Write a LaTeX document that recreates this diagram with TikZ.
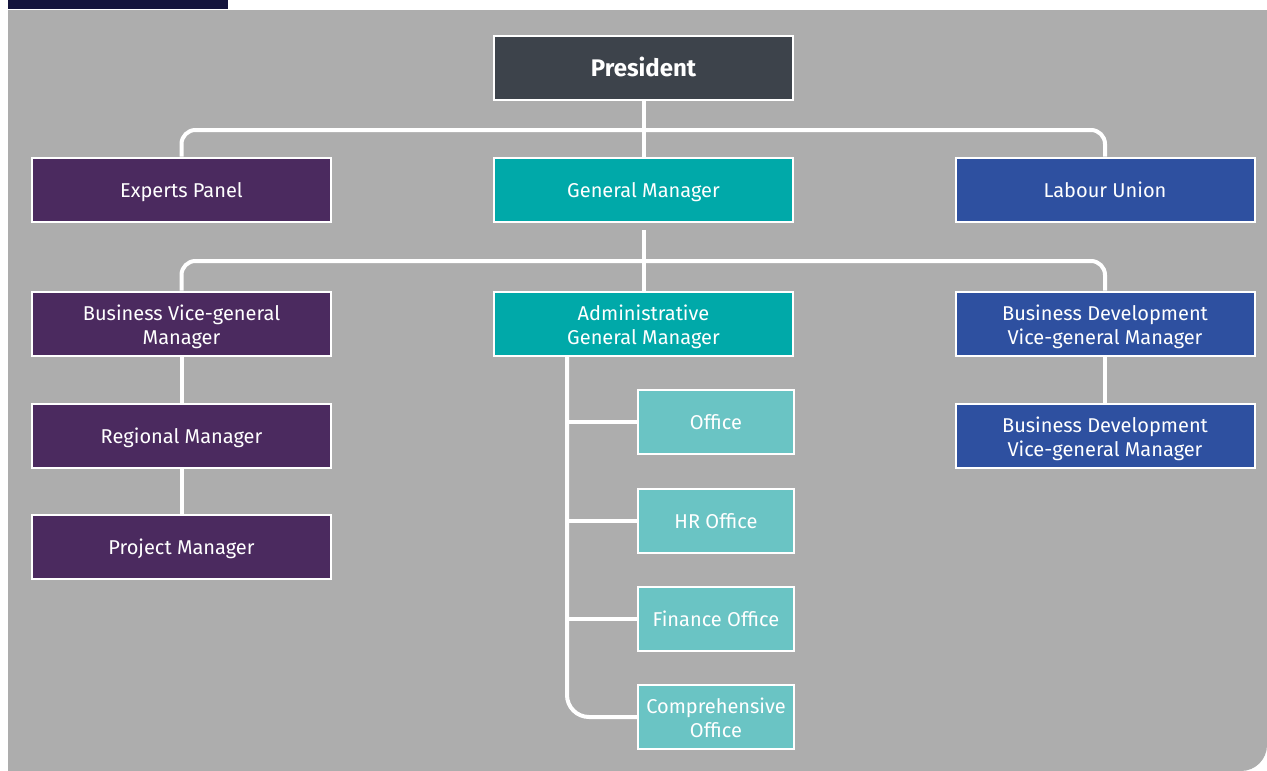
\documentclass[tikz,border=0pt]{standalone}
\usepackage{fontspec}
\setmainfont{Fira Sans}
\definecolor{bggrey}{HTML}{ADADAD}
\definecolor{navybar}{HTML}{14143C}
\definecolor{presc}{HTML}{3D434B}
\definecolor{purp}{HTML}{4B2A5F}
\definecolor{teal1}{HTML}{00A9A9}
\definecolor{blue1}{HTML}{2E50A0}
\definecolor{teal2}{HTML}{6AC4C4}
\newcommand\twolines[2]{\raisebox{-13pt}[0pt][0pt]{\begin{tabular}[b]{@{}c@{}}#1\\#2\end{tabular}}}
\tikzset{
  box/.style={draw=white, line width=2pt, minimum width=299pt, minimum height=64pt,
    text=white, align=center, font=\fontsize{20}{24}\selectfont, inner sep=0pt,
    execute at begin node={\rule{0pt}{21pt}}, execute at end node={\rule[-5.2pt]{0pt}{5.2pt}}},
  presbox/.style={box, font=\fontsize{24}{28}\selectfont\bfseries,
    execute at begin node={\rule{0pt}{23pt}}, execute at end node={\rule[-5.4pt]{0pt}{5.4pt}}},
  smallbox/.style={box, minimum width=156pt},
  conn/.style={draw=white, line width=4pt},
}
\begin{document}
\begin{tikzpicture}[x=1pt,y=-1pt]
\useasboundingbox (0,0) rectangle (1267,771);
\fill[white] (0,0) rectangle (1267,771);
\fill[navybar] (8,0) rectangle (228,9);
\fill[bggrey] (8,10) -- (1267,10) -- (1267,745) arc[start angle=0,end angle=90,radius=26] -- (8,771) -- cycle;

\coordinate (bus1) at (643.5,130);
\coordinate (gmtap) at (643.5,230);
\coordinate (bus2) at (643.5,261);
\coordinate (admL) at (567,356);

\node[presbox, fill=presc] (pres) at (643.5,68) {President};
\node[box, fill=purp] (exp) at (181.5,189.5) {Experts Panel};
\node[box, fill=teal1] (gm) at (643.5,189.5) {General Manager};
\node[box, fill=blue1] (lab) at (1105,189.5) {Labour Union};
\node[box, fill=purp] (bvgm) at (181.5,323.5) {\twolines{Business Vice-general}{Manager}};
\node[box, fill=teal1] (adm) at (643.5,323.5) {\twolines{Administrative}{General Manager}};
\node[box, fill=blue1] (bd1) at (1105,323.5) {\twolines{Business Development}{Vice-general Manager}};
\node[box, fill=purp] (reg) at (181.5,435.5) {Regional Manager};
\node[box, fill=blue1] (bd2) at (1105,435.5) {\twolines{Business Development}{Vice-general Manager}};
\node[box, fill=purp] (proj) at (181.5,547) {Project Manager};
\node[smallbox, fill=teal2] (off) at (716,422) {Office};
\node[smallbox, fill=teal2] (hr) at (716,520.5) {HR Office};
\node[smallbox, fill=teal2] (fin) at (716,619) {Finance Office};
\node[smallbox, fill=teal2] (comp) at (716,717) {\twolines{Comprehensive}{Office}};

\draw[conn] (pres.south) -- (gm.north);
\draw[conn, rounded corners=14pt] (exp.north) |- (bus1) -| (lab.north);
\draw[conn] (gmtap) -- (adm.north);
\draw[conn, rounded corners=14pt] (bvgm.north) |- (bus2) -| (bd1.north);
\draw[conn] (bvgm.south) -- (reg.north);
\draw[conn] (reg.south) -- (proj.north);
\draw[conn] (bd1.south) -- (bd2.north);
\draw[conn, rounded corners=22pt] (admL) |- (comp.west);
\draw[conn] (admL |- off.west) -- (off.west);
\draw[conn] (admL |- hr.west) -- (hr.west);
\draw[conn] (admL |- fin.west) -- (fin.west);
\end{tikzpicture}
\end{document}
